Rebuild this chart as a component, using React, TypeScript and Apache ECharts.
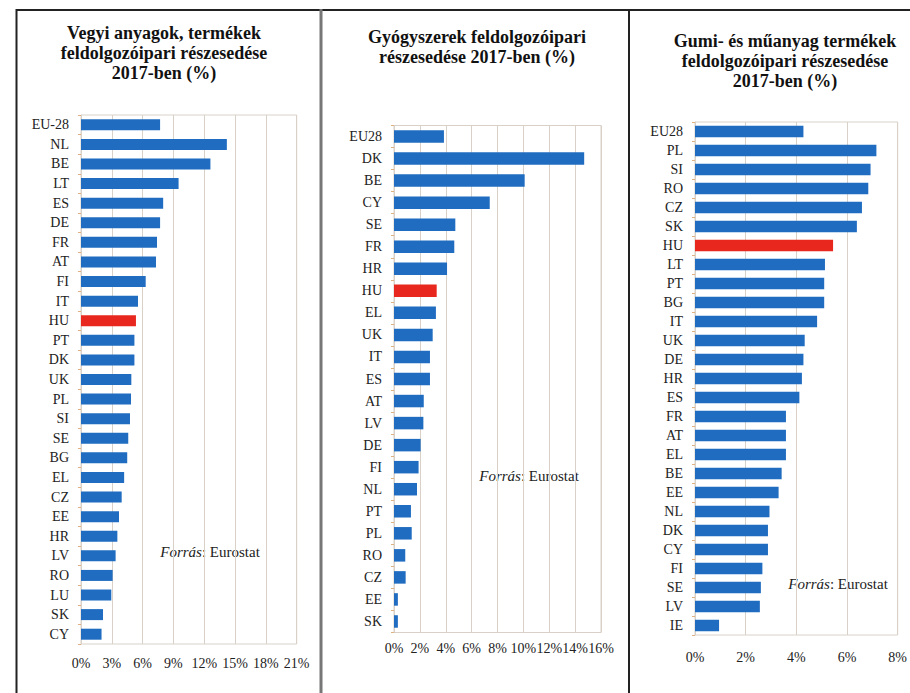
import React, { useEffect, useRef } from "react";
import * as echarts from "echarts";

const chemCats = ["EU-28", "NL", "BE", "LT", "ES", "DE", "FR", "AT", "FI", "IT", "HU", "PT", "DK", "UK", "PL", "SI", "SE", "BG", "EL", "CZ", "EE", "HR", "LV", "RO", "LU", "SK", "CY"];
const chemVals = [7.7, 14.2, 12.6, 9.5, 8.0, 7.7, 7.4, 7.3, 6.3, 5.55, 5.35, 5.2, 5.2, 4.9, 4.87, 4.77, 4.6, 4.5, 4.2, 3.96, 3.7, 3.54, 3.37, 3.08, 2.95, 2.14, 2.0];

const pharmaCats = ["EU28", "DK", "BE", "CY", "SE", "FR", "HR", "HU", "EL", "UK", "IT", "ES", "AT", "LV", "DE", "FI", "NL", "PT", "PL", "RO", "CZ", "EE", "SK"];
const pharmaVals = [3.86, 14.7, 10.1, 7.4, 4.74, 4.66, 4.1, 3.3, 3.24, 2.99, 2.78, 2.78, 2.3, 2.27, 2.06, 1.9, 1.78, 1.31, 1.37, 0.87, 0.9, 0.3, 0.3];

const rubberCats = ["EU28", "PL", "SI", "RO", "CZ", "SK", "HU", "LT", "PT", "BG", "IT", "UK", "DE", "HR", "ES", "FR", "AT", "EL", "BE", "EE", "NL", "DK", "CY", "FI", "SE", "LV", "IE"];
const rubberVals = [4.28, 7.16, 6.93, 6.84, 6.59, 6.39, 5.45, 5.13, 5.1, 5.1, 4.82, 4.33, 4.28, 4.22, 4.12, 3.59, 3.59, 3.59, 3.42, 3.3, 2.94, 2.88, 2.88, 2.66, 2.6, 2.56, 0.95];

const titles = [
  "Vegyi anyagok, termékek\nfeldolgozóipari részesedése\n2017-ben (%)",
  "Gyógyszerek feldolgozóipari\nrészesedése 2017-ben (%)",
  "Gumi- és műanyag termékek\nfeldolgozóipari részesedése\n2017-ben (%)",
];
const sourceText = "{i|Forrás}{n|: Eurostat}";

const BLUE = "#1f6cc1";
const RED = "#e8281f";
const GRID = "#d9d1c8";
const FONT = "'Liberation Serif', 'Times New Roman', serif";

export default function App() {
  const ref = useRef<HTMLDivElement>(null);
  useEffect(() => {
    if (!ref.current) return;
    const chart = echarts.init(ref.current, undefined, { renderer: "svg" });
    const grids = [
      { left: 81, top: 115, width: 215.7, height: 529 },
      { left: 394, top: 125.5, width: 207, height: 507 },
      { left: 695, top: 122, width: 210.7, height: 513 },
    ];
    const xMax = [21, 16, 8];
    const xInt = [3, 2, 2];
    const xMargin = [12, 9, 15];
    const cats = [chemCats, pharmaCats, rubberCats];
    const vals = [chemVals, pharmaVals, rubberVals];
    const barW = [11, 12.5, 11.5];

    const option: any = {
      animation: false,
      backgroundColor: "#fff",
      title: [
        { text: titles[0], left: 164, top: 23, textAlign: "center" },
        { text: titles[1], left: 477, top: 27, textAlign: "center" },
        { text: titles[2], left: 785, top: 31, textAlign: "center" },
      ].map((t) => ({
        ...t,
        padding: 0,
        textStyle: {
          fontFamily: FONT,
          fontWeight: "bold",
          fontSize: 18,
          lineHeight: 20,
          color: "#111",
        },
      })),
      grid: grids.map((g) => ({
        ...g,
        show: true,
        borderColor: GRID,
        borderWidth: 1,
        backgroundColor: "transparent",
        containLabel: false,
      })),
      xAxis: grids.map((_, i) => ({
        type: "value",
        gridIndex: i,
        min: 0,
        max: xMax[i],
        interval: xInt[i],
        axisLine: { show: false },
        axisTick: { show: false },
        splitLine: { show: true, lineStyle: { color: GRID, width: 1 } },
        axisLabel: {
          formatter: "{value}%",
          fontFamily: FONT,
          fontSize: 14,
          color: "#222",
          margin: xMargin[i],
          showMinLabel: true,
          showMaxLabel: true,
          hideOverlap: false,
        },
      })),
      yAxis: grids.map((_, i) => ({
        type: "category",
        gridIndex: i,
        inverse: true,
        data: cats[i],
        axisLine: { show: true, lineStyle: { color: GRID } },
        axisTick: { show: true, length: 3, lineStyle: { color: "#e0b080" } },
        splitLine: { show: false },
        axisLabel: {
          fontFamily: FONT,
          fontSize: 14,
          color: "#222",
          margin: 12,
          interval: 0,
        },
      })),
      series: grids.map((_, i) => ({
        type: "bar",
        xAxisIndex: i,
        yAxisIndex: i,
        barWidth: barW[i],
        data: vals[i].map((v, j) => ({
          value: v,
          itemStyle: { color: cats[i][j] === "HU" ? RED : BLUE },
        })),
      })),
      graphic: [
        { type: "line", shape: { x1: 16, y1: 10, x2: 910, y2: 10 }, style: { stroke: "#222", lineWidth: 2 } },
        { type: "line", shape: { x1: 16.5, y1: 9, x2: 16.5, y2: 693 }, style: { stroke: "#222", lineWidth: 2 } },
        { type: "line", shape: { x1: 321, y1: 9, x2: 321, y2: 693 }, style: { stroke: "#777", lineWidth: 3 } },
        { type: "line", shape: { x1: 629, y1: 9, x2: 629, y2: 693 }, style: { stroke: "#222", lineWidth: 2 } },
        ...[
          { x: 210, y: 552 },
          { x: 529, y: 476 },
          { x: 838, y: 584 },
        ].flatMap((p) => [
          { type: "rect", shape: { x: p.x - 56, y: p.y - 10, width: 112, height: 20 }, style: { fill: "#fff" } },
          {
            type: "text",
            x: p.x,
            y: p.y,
            style: {
              text: sourceText,
              textAlign: "center",
              textVerticalAlign: "middle",
              align: "center",
              verticalAlign: "middle",
              fontFamily: FONT,
              fontSize: 15,
              fill: "#222",
              rich: {
                i: { fontStyle: "italic", fontFamily: FONT, fontSize: 15, fill: "#222" },
                n: { fontFamily: FONT, fontSize: 15, fill: "#222" },
              },
            },
          },
        ]),
      ],
    };
    chart.setOption(option);
    return () => chart.dispose();
  }, []);
  return (
    <div
      ref={ref}
      style={{ position: "absolute", left: 0, top: 0, width: 910, height: 693 }}
    />
  );
}
